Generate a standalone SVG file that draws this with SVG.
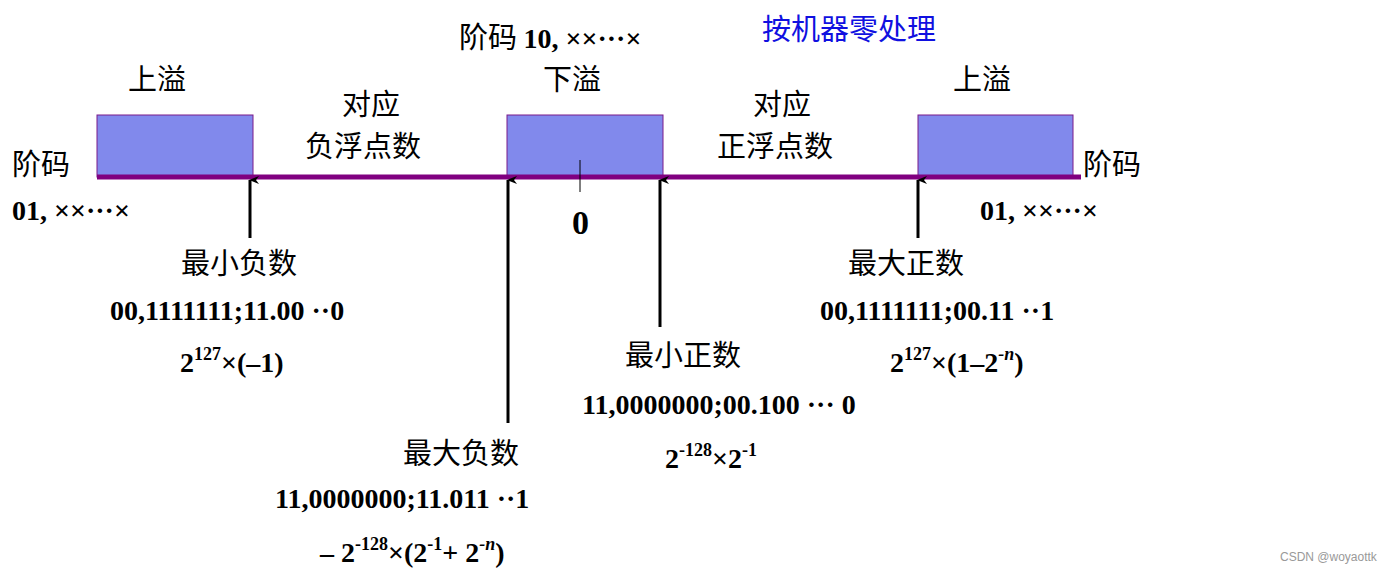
<svg xmlns="http://www.w3.org/2000/svg" width="1396" height="574" viewBox="0 0 1396 574">
<style>
.zh{font-family:"Noto Sans CJK SC","Noto Sans",sans-serif;font-size:29px;fill:#000}
.num{font-family:"Liberation Serif",serif;font-size:28px;font-weight:bold;fill:#000}
.sup{font-size:18px}
.box{fill:#8189ec;stroke:#7a1a8a;stroke-width:1}
.arr{stroke:#000;stroke-width:3;fill:none;marker-end:url(#ah)}
</style>
<defs><marker id="ah" markerWidth="8" markerHeight="10" refX="4" refY="1" orient="auto-start-reverse" markerUnits="userSpaceOnUse" viewBox="0 0 8 10"><path d="M0,10 L4,0 L8,10 L4,7 Z" fill="#000"/></marker></defs>
<rect width="1396" height="574" fill="#fff"/>
<g id="box-left"><rect class="box" x="97" y="115" width="156" height="62"/></g>
<g id="box-mid"><rect class="box" x="507" y="115" width="156" height="62"/></g>
<g id="box-right"><rect class="box" x="918" y="115" width="155" height="62"/></g>
<g id="axis"><line x1="97" y1="177" x2="1081" y2="177" stroke="#800080" stroke-width="5"/><line x1="580" y1="160" x2="580" y2="192" stroke="#000" stroke-width="1"/></g>
<g id="connectors">
<line class="arr" x1="250" y1="238" x2="250" y2="180"/>
<line class="arr" x1="508" y1="423" x2="508" y2="180"/>
<line class="arr" x1="660" y1="327" x2="660" y2="180"/>
<line class="arr" x1="918" y1="238" x2="918" y2="180"/>
</g>
<g id="labels">
<text class="zh" x="128" y="90">上溢</text>
<text class="zh" x="543" y="90">下溢</text>
<text class="zh" x="953" y="90">上溢</text>
<text class="zh" x="342" y="115">对应</text>
<text class="zh" x="305" y="157">负浮点数</text>
<text class="zh" x="753" y="115">对应</text>
<text class="zh" x="717" y="157">正浮点数</text>
<text x="459" y="48"><tspan class="zh">阶码 </tspan><tspan class="num">10, ××···×</tspan></text>
<text class="zh" x="762" y="40" style="fill:#1010e0">按机器零处理</text>
<text class="zh" x="12" y="175">阶码</text>
<text class="num" x="12" y="220">01, ××···×</text>
<text class="zh" x="1083" y="175">阶码</text>
<text class="num" x="980" y="220">01, ××···×</text>
<text class="num" x="572" y="234" style="font-size:34px">0</text>
<text class="zh" x="181" y="274">最小负数</text>
<text class="num" x="110" y="320">00,1111111;11.00 ··0</text>
<text class="num" x="180" y="372">2<tspan class="sup" dy="-12">127</tspan><tspan dy="12">×(–1)</tspan></text>
<text class="zh" x="848" y="274">最大正数</text>
<text class="num" x="820" y="320">00,1111111;00.11 ··1</text>
<text class="num" x="890" y="372">2<tspan class="sup" dy="-12">127</tspan><tspan dy="12">×(1–2</tspan><tspan class="sup" dy="-12" font-style="italic">-n</tspan><tspan dy="12">)</tspan></text>
<text class="zh" x="625" y="366">最小正数</text>
<text class="num" x="582" y="414">11,0000000;00.100 ··· 0</text>
<text class="num" x="665" y="468">2<tspan class="sup" dy="-12">-128</tspan><tspan dy="12">×2</tspan><tspan class="sup" dy="-12">-1</tspan></text>
<text class="zh" x="403" y="464">最大负数</text>
<text class="num" x="275" y="508">11,0000000;11.011 ··1</text>
<text class="num" x="320" y="562">– 2<tspan class="sup" dy="-12">-128</tspan><tspan dy="12">×(2</tspan><tspan class="sup" dy="-12">-1</tspan><tspan dy="12">+ 2</tspan><tspan class="sup" dy="-12" font-style="italic">-n</tspan><tspan dy="12">)</tspan></text>
<text x="1280" y="561" style="font-family:'Liberation Sans',sans-serif;font-size:12px;fill:#999">CSDN @woyaottk</text>
</g>
</svg>
